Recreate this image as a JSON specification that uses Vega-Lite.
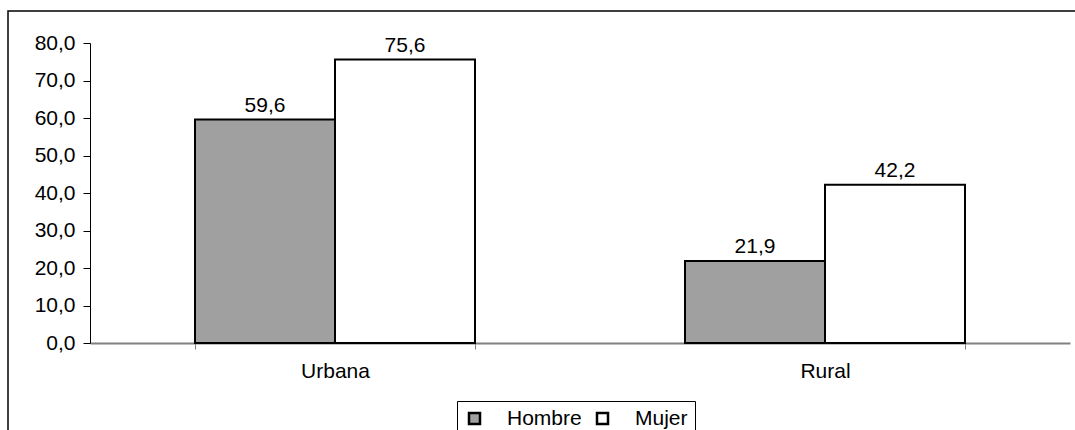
{
  "$schema": "https://vega.github.io/schema/vega-lite/v6.json",
  "autosize": "none",
  "width": 1080,
  "height": 430,
  "padding": {"left": 8, "top": 11, "right": 0, "bottom": 0},
  "background": "white",
  "config": {
    "locale": {"number": {"decimal": ",", "thousands": ".", "grouping": [3], "currency": ["", " €"]}},
    "font": "Liberation Sans",
    "view": {"stroke": "black", "strokeWidth": 1.5},
    "axis": {"labelFont": "Liberation Sans", "labelFontSize": 21, "labelColor": "black", "grid": false}
  },
  "data": {
    "values": [
      {"zona": "Urbana", "sexo": "Hombre", "valor": 59.6},
      {"zona": "Urbana", "sexo": "Mujer", "valor": 75.6},
      {"zona": "Rural", "sexo": "Hombre", "valor": 21.9},
      {"zona": "Rural", "sexo": "Mujer", "valor": 42.2}
    ]
  },
  "encoding": {
    "x": {
      "field": "zona", "type": "nominal", "sort": ["Urbana", "Rural"],
      "scale": {"range": [82, 1062], "paddingInner": 0.4286, "paddingOuter": 0.2143},
      "axis": {"title": null, "labelAngle": 0, "offset": -98, "domainColor": "#808080", "domainWidth": 2, "tickColor": "#808080", "tickBand": "extent", "tickSize": 6, "labelPadding": 11}
    },
    "xOffset": {"field": "sexo", "type": "nominal", "sort": ["Hombre", "Mujer"]},
    "y": {
      "field": "valor", "type": "quantitative",
      "scale": {"domain": [0, 80], "range": [332, 32]},
      "axis": {"title": null, "offset": -82, "values": [0, 10, 20, 30, 40, 50, 60, 70, 80], "format": ".1f", "domainColor": "black", "tickColor": "black", "tickSize": 7, "labelPadding": 8}
    }
  },
  "layer": [
    {
      "mark": {"type": "bar", "stroke": "black", "strokeWidth": 2},
      "encoding": {
        "fill": {
          "field": "sexo", "type": "nominal",
          "scale": {"domain": ["Hombre", "Mujer"], "range": ["#a0a0a0", "white"]},
          "legend": {
            "title": null, "orient": "none", "legendX": 449, "legendY": 390, "direction": "horizontal",
            "symbolType": "square", "symbolSize": 121, "symbolStrokeColor": "black", "symbolStrokeWidth": 2.5,
            "labelFontSize": 21, "labelColor": "black", "labelOffset": 22, "columnPadding": 10,
            "strokeColor": "black", "fillColor": "white", "padding": 7
          }
        }
      }
    },
    {
      "mark": {"type": "text", "dy": -8, "baseline": "alphabetic", "fontSize": 21, "color": "black"},
      "encoding": {"text": {"field": "valor", "type": "quantitative", "format": ".1f"}}
    }
  ]
}
